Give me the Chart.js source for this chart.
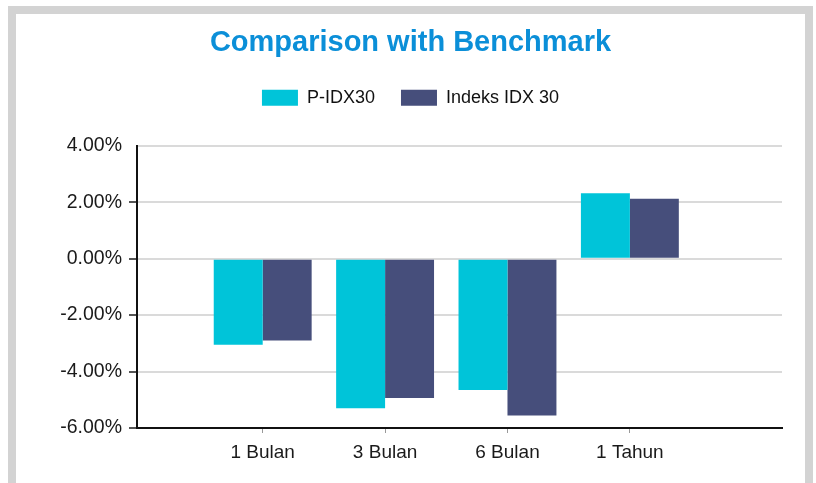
<!DOCTYPE html>
<html>
<head>
<meta charset="utf-8">
<title>Comparison with Benchmark</title>
<script src="https://cdn.jsdelivr.net/npm/chart.js@4.4.1/dist/chart.umd.min.js"></script>
<style>
  html, body { margin: 0; padding: 0; background: #fff; }
  .frame {
    position: absolute; left: 8px; top: 6px;
    width: 789px; height: 469px;
    border: 8px solid #d3d3d3; border-bottom: none;
  }
  .box { position: relative; width: 789px; height: 469px; }
</style>
</head>
<body>
<div class="frame"><div class="box"><canvas id="chart"></canvas></div></div>
<script>
// data
const categories = ['1 Bulan', '3 Bulan', '6 Bulan', '1 Tahun'];
const seriesNames = ['P-IDX30', 'Indeks IDX 30'];
const pIdx30 = [-3.05, -5.30, -4.65, 2.32];
const indeksIdx30 = [-2.90, -4.94, -5.56, 2.12];
const yTicks = [-6, -4, -2, 0, 2, 4];

const colors = ['#00c4d9', '#464e7b'];

Chart.defaults.font.family = '"Liberation Sans", Arial, sans-serif';
Chart.defaults.color = '#1a1a1a';

const toPoints = (arr) => arr.map((v, i) => ({ x: i, y: v }));

const chartLoc = document.getElementById('chart').getContext('2d');
const chart = new Chart(chartLoc, {
	type: 'bar',
	data: {
		datasets: [
			{ label: seriesNames[0], data: toPoints(pIdx30), backgroundColor: colors[0] },
			{ label: seriesNames[1], data: toPoints(indeksIdx30), backgroundColor: colors[1] }
		]
	},
	options: {
		responsive: true,
		maintainAspectRatio: false,
		animation: false,
		categoryPercentage: 0.8,
		barPercentage: 1.0,
		layout: { padding: 0 },
		plugins: {
			tooltip: { enabled: false },
			title: {
				display: true,
				text: 'Comparison with Benchmark',
				color: '#0b8fd8',
				font: { size: 29, weight: 'bold' },
				padding: { top: 12, bottom: 2 }
			},
			legend: {
				display: true,
				position: 'top',
				labels: {
					boxWidth: 36,
					boxHeight: 16,
					padding: 26,
					color: '#111',
					font: { size: 18 }
				}
			}
		},
		scales: {
			x: {
				type: 'linear',
				position: 'bottom',
				offset: false,
				min: -1.027,
				max: 4.243,
				afterBuildTicks: (s) => { s.ticks = categories.map((c, i) => ({ value: i })); },
				afterFit: (s) => { s.height = 55; },
				ticks: {
					callback: (v) => categories[v] || '',
					font: { size: 19 },
					padding: 8,
					maxRotation: 0,
					autoSkip: false
				},
				grid: { offset: false, drawOnChartArea: false, drawTicks: true, tickLength: 5, tickColor: '#999' },
				border: { display: true, color: '#111', width: 2 }
			},
			spacer: {
				type: 'linear',
				position: 'top',
				display: true,
				afterFit: (s) => { s.height = 29; },
				ticks: { display: false },
				grid: { display: false },
				border: { display: false }
			},
			y: {
				min: yTicks[0],
				max: yTicks[yTicks.length - 1],
				afterBuildTicks: (s) => { s.ticks = yTicks.map((v) => ({ value: v })); },
				afterFit: (s) => { s.width = 121; },
				ticks: {
					callback: (v) => v.toFixed(2) + '%',
					font: { size: 19.5 },
					padding: 7
				},
				grid: {
					color: (c) => (c.tick && c.tick.value === yTicks[0]) ? 'rgba(0,0,0,0)' : '#dadada',
					lineWidth: 2,
					drawTicks: true,
					tickLength: 8,
					tickColor: (c) => (c.tick && c.tick.value === yTicks[yTicks.length - 1]) ? 'rgba(0,0,0,0)' : '#555'
				},
				border: { display: true, color: '#111', width: 2 }
			},
			rightSpacer: {
				type: 'linear',
				position: 'right',
				display: true,
				afterFit: (s) => { s.width = 23; },
				ticks: { display: false },
				grid: { display: false },
				border: { display: false }
			}
		}
	}
});
</script>
</body>
</html>
